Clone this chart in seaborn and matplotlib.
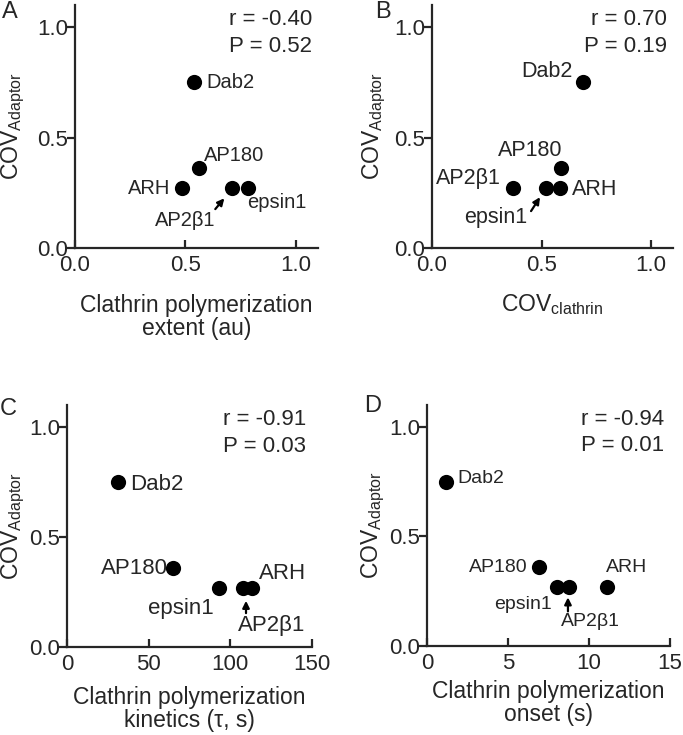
import numpy as np
import pandas as pd
import seaborn as sns
import matplotlib.pyplot as plt

# Daten
adaptors = ["Dab2", "AP180", "ARH", "AP2β1", "epsin1"]
cov_adaptor = [0.75, 0.36, 0.27, 0.27, 0.27]
poly_extent = [0.54, 0.56, 0.485, 0.71, 0.785]
cov_clathrin = [0.69, 0.59, 0.585, 0.37, 0.52]
poly_kinetics = [31, 65, 113.5, 108, 93]
poly_onset = [1.2, 6.9, 11.1, 8.75, 8.0]

stats_r = ["-0.40", "0.70", "-0.91", "-0.94"]
stats_p = ["0.52", "0.19", "0.03", "0.01"]

sns.set_style("ticks")
plt.rcParams['font.family'] = ['Liberation Sans', 'DejaVu Sans']
plt.rcParams['mathtext.default'] = 'regular'
plt.rcParams['axes.linewidth'] = 1.6

df = pd.DataFrame({
    "Adaptor": adaptors,
    "COV": cov_adaptor,
    "extent": poly_extent,
    "covclath": cov_clathrin,
    "kinetics": poly_kinetics,
    "onset": poly_onset,
})

fig = plt.figure(figsize=(6.83, 7.35), dpi=100)

panels = [
    # Buchstabe, x-Spalte, Achsenrechteck, Grenzen, Beschriftungen, Pfeil
    dict(letter="A", x="extent", rect=[0.1098, 0.6626, 0.3558, 0.3306], xlim=1.1,
         ticks=[0, 0.5, 1.0], fmt="{:.1f}", xlabel="Clathrin polymerization\nextent (au)",
         lab=(0.5, -0.19), ylab=-0.198, fs=14.5,
         txt={"Dab2": (0.595, 0.75, "left", "center"),
              "AP180": (0.72, 0.42, "center", "center"),
              "ARH": (0.43, 0.27, "right", "center"),
              "epsin1": (0.915, 0.205, "center", "center")},
         arrow=("AP2β1", (0.50, 0.125), (0.635, 0.176), (0.676, 0.225))),
    dict(letter="B", x="covclath", rect=[0.6325, 0.6626, 0.3529, 0.3306], xlim=1.1,
         ticks=[0, 0.5, 1.0], fmt="{:.1f}", xlabel="COV$_{clathrin}$",
         lab=(0.5, -0.18), ylab=-0.183, fs=15.5,
         txt={"Dab2": (0.64, 0.80, "right", "center"),
              "AP180": (0.45, 0.44, "center", "center"),
              "AP2β1": (0.315, 0.315, "right", "center"),
              "ARH": (0.64, 0.265, "left", "center")},
         arrow=("epsin1", (0.29, 0.14), (0.452, 0.167), (0.493, 0.23))),
    dict(letter="C", x="kinetics", rect=[0.0981, 0.1197, 0.3587, 0.3293], xlim=150,
         ticks=[0, 50, 100, 150], fmt="{:.0f}", xlabel="Clathrin polymerization\nkinetics (τ, s)",
         lab=(0.5, -0.16), ylab=-0.163, fs=16,
         txt={"Dab2": (38.5, 0.74, "left", "center"),
              "AP180": (62, 0.355, "right", "center"),
              "epsin1": (70, 0.177, "center", "center"),
              "ARH": (132, 0.335, "center", "center")},
         arrow=("AP2β1", (125, 0.10), (109.6, 0.154), (109.6, 0.21))),
    dict(letter="D", x="onset", rect=[0.6252, 0.1211, 0.3558, 0.3279], xlim=15,
         ticks=[0, 5, 10, 15], fmt="{:.0f}", xlabel="Clathrin polymerization\nonset (s)",
         lab=(0.5, -0.14), ylab=-0.165, fs=14,
         txt={"Dab2": (1.9, 0.765, "left", "center"),
              "AP180": (6.2, 0.36, "right", "center"),
              "ARH": (12.3, 0.36, "center", "center"),
              "epsin1": (5.9, 0.19, "center", "center")},
         arrow=("AP2β1", (10.1, 0.11), (8.7, 0.158), (8.7, 0.222))),
]

letter_pos = {"A": (0.015, 0.983), "B": (0.56, 0.983), "C": (0.012, 0.444), "D": (0.545, 0.448)}

for i, p in enumerate(panels):
    ax = fig.add_axes(p["rect"])
    sns.scatterplot(data=df, x=p["x"], y="COV", ax=ax, color="black", s=120,
                    edgecolor="black", linewidth=0, legend=False, zorder=3)
    ax.set_xlim(0, p["xlim"])
    ax.set_ylim(0, 1.1)
    ax.set_xticks(p["ticks"])
    ax.set_xticklabels([p["fmt"].format(t) for t in p["ticks"]])
    ax.set_yticks([0, 0.5, 1.0])
    ax.set_yticklabels(["0.0", "0.5", "1.0"])
    sns.despine(ax=ax)
    ax.tick_params(axis="x", direction="in", length=6, width=1.6, labelsize=16, pad=5)
    ax.tick_params(axis="y", direction="out", length=6, width=1.6, labelsize=16, pad=-1)
    ax.set_xlabel(p["xlabel"], fontsize=16.5, linespacing=1.0)
    ax.xaxis.set_label_coords(*p["lab"])
    ax.set_ylabel("COV$_{Adaptor}$", fontsize=16.5)
    ax.yaxis.set_label_coords(p["ylab"], 0.5)

    for name, (tx, ty, ha, va) in p["txt"].items():
        ax.text(tx, ty, name, ha=ha, va=va, fontsize=p["fs"])
    name, txy, tail, head = p["arrow"]
    ax.text(txy[0], txy[1], name, ha="center", va="center", fontsize=p["fs"])
    ax.annotate("", xy=head, xytext=tail,
                arrowprops=dict(arrowstyle="-|>", color="black", lw=1.6,
                                mutation_scale=10, shrinkA=0, shrinkB=0))

    ax.text(0.975, 0.94, "r = " + stats_r[i], transform=ax.transAxes,
            ha="right", va="center", fontsize=16)
    ax.text(0.975, 0.83, "P = " + stats_p[i], transform=ax.transAxes,
            ha="right", va="center", fontsize=16)

    lx, ly = letter_pos[p["letter"]]
    fig.text(lx, ly, p["letter"], ha="center", va="center", fontsize=17)

fig.savefig("out.png", dpi=100)
